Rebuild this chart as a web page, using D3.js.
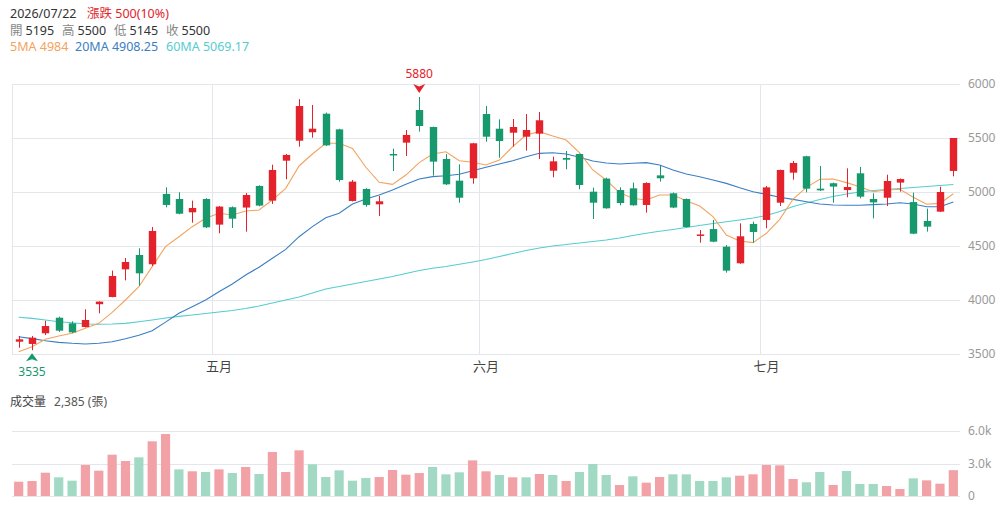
<!DOCTYPE html>
<html><head><meta charset="utf-8">
<script src="https://cdn.jsdelivr.net/npm/d3@7/dist/d3.min.js"></script>
<style>
body{margin:0;background:#fff;}
svg{display:block;font-family:"Noto Sans","Noto Sans CJK TC",sans-serif;}
</style></head><body>
<svg id="c" width="1002" height="509"></svg>
<script>
// ---------- DATA ----------
const dates = [
 "2026/04/10","2026/04/13","2026/04/14","2026/04/15","2026/04/16","2026/04/17","2026/04/20","2026/04/21","2026/04/22","2026/04/23",
 "2026/04/24","2026/04/27","2026/04/28","2026/04/29","2026/04/30",
 "2026/05/04","2026/05/05","2026/05/06","2026/05/07","2026/05/08","2026/05/11","2026/05/12","2026/05/13","2026/05/14","2026/05/15",
 "2026/05/18","2026/05/19","2026/05/20","2026/05/21","2026/05/22","2026/05/25","2026/05/26","2026/05/27","2026/05/28","2026/05/29",
 "2026/06/01","2026/06/02","2026/06/03","2026/06/04","2026/06/05","2026/06/08","2026/06/09","2026/06/10","2026/06/11","2026/06/12",
 "2026/06/15","2026/06/16","2026/06/17","2026/06/18","2026/06/22","2026/06/23","2026/06/24","2026/06/25","2026/06/26","2026/06/29","2026/06/30",
 "2026/07/01","2026/07/02","2026/07/06","2026/07/07","2026/07/08","2026/07/09","2026/07/10","2026/07/13","2026/07/14","2026/07/15",
 "2026/07/16","2026/07/17","2026/07/20","2026/07/21","2026/07/22"
];
const opens = [
 3614,3593,3692,3836,3784,3750,3961,4028,4284,4417,
 4331,4982,4935,4812,4935,4698,4859,4856,5056,4920,
 5290,5475,5553,5725,5580,4917,5028,4886,5352,5457,
 5759,5602,5306,5105,5127,5722,5586,5549,5512,5540,
 5197,5315,5352,5003,5124,5018,5034,4880,5154,4988,
 4935,4597,4657,4494,4340,4704,4741,4901,5179,5331,
 5031,5081,5018,5173,4935,4947,5087,4907,4732,4818,5195
];
const highs = [
 3667,3667,3808,3845,3803,3914,3988,4272,4389,4479,
 4676,5043,4997,4920,4942,4870,4866,4990,5062,5253,
 5352,5860,5806,5735,5585,5111,5035,4963,5401,5574,
 5880,5605,5352,5256,5455,5796,5673,5676,5722,5741,
 5327,5380,5355,5040,5133,5043,5087,5090,5250,4995,
 4940,4648,4741,4509,4710,4725,5056,5207,5287,5335,
 5241,5087,5219,5232,4988,5160,5125,4994,4846,5049,5500
];
const lows = [
 3558,3535,3676,3705,3693,3745,3877,4025,4182,4133,
 4315,4858,4794,4716,4667,4618,4667,4633,4868,4889,
 5118,5420,5503,5425,5095,4912,4864,4778,5194,5333,
 5559,5151,5065,4901,5077,5466,5318,5420,5383,5306,
 5136,5210,5025,4750,4845,4877,4873,4809,5096,4850,
 4670,4531,4535,4253,4335,4531,4664,4870,5114,4997,
 5010,4901,4951,4942,4756,4870,5003,4610,4633,4815,5145
];
const closes = [
 3636,3651,3759,3716,3700,3815,3985,4222,4352,4247,
 4639,4880,4799,4852,4673,4865,4753,4972,4874,5204,
 5343,5796,5586,5432,5111,5096,4880,4914,5343,5528,
 5611,5281,5071,4947,5451,5512,5472,5602,5574,5664,
 5284,5299,5065,4901,4849,4898,4877,5083,5127,4856,
 4676,4607,4540,4272,4590,4630,5043,5204,5269,5031,
 5015,5050,5046,4957,4904,5102,5120,4614,4679,5000,5500
];
const volumes = [
 1320,1385,2150,1725,1415,2860,2340,3815,3230,3570,
 5050,5720,2460,2280,2215,2460,2120,2680,2030,4060,
 2215,4215,2925,1755,2370,1415,1660,1755,2400,1970,
 2120,2680,2000,2185,3290,2280,1940,1725,1725,2030,
 1940,1385,2215,2955,1940,1015,1815,1230,1755,2000,
 2000,1385,1385,1725,1875,2000,2860,2830,1570,1265,
 2215,1015,2310,1110,1110,920,645,1630,1445,1135,2385
];
const ma5 = [
 3521,3568,3636,3667,3692,3738,3784,3886,4000,4123,
 4309,4494,4586,4679,4756,4803,4787,4824,4833,4926,
 5034,5241,5352,5451,5451,5404,5229,5090,5071,5157,
 5272,5352,5373,5290,5275,5250,5296,5420,5528,5559,
 5519,5481,5364,5204,5111,4994,4942,4926,4972,4972,
 4920,4870,4772,4602,4546,4531,4618,4747,4935,5043,
 5118,5120,5087,5049,5003,5018,5025,4951,4886,4895,4984
];
const ma20 = [
 3660,3642,3623,3608,3599,3593,3599,3614,3642,3673,
 3716,3795,3877,3938,4000,4077,4148,4232,4303,4386,
 4469,4586,4679,4762,4803,4889,4935,4972,5018,5071,
 5120,5142,5151,5164,5197,5229,5259,5290,5327,5358,
 5364,5352,5321,5287,5269,5259,5266,5272,5250,5204,
 5167,5142,5111,5080,5040,5003,4978,4951,4932,4910,
 4889,4880,4877,4877,4883,4889,4901,4889,4864,4864,4908.25
];
const ma60 = [
 3840,3830,3815,3799,3790,3778,3775,3778,3784,3799,
 3815,3833,3848,3861,3875,3889,3903,3921,3944,3972,
 4000,4028,4065,4102,4125,4148,4171,4194,4218,4245,
 4273,4294,4310,4331,4352,4375,4403,4431,4458,4482,
 4500,4514,4528,4542,4556,4574,4597,4618,4636,4653,
 4671,4690,4708,4725,4741,4759,4782,4819,4866,4898,
 4931,4958,4981,5000,5014,5023,5032,5042,5051,5060,5069.17
];
const priceTicks = [3500, 4000, 4500, 5000, 5500, 6000];
const priceTickLabels = ["3500", "4000", "4500", "5000", "5500", "6000"];
const volumeTicks = [0, 3000, 6000];
const volumeTickLabels = ["0", "3.0k", "6.0k"];
const monthStarts = ["2026/05/04", "2026/06/01", "2026/07/01"];
const monthLabels = ["五月", "六月", "七月"];

// ---------- STYLE ----------
const UP = "#e3222b", DOWN = "#17996d";
const VUP = "#f2a1a6", VDOWN = "#a1d9c5";
const C5 = "#f3a35e", C20 = "#3a7ec3", C60 = "#55ccd0";
const GRID = "#e3e6eb";

const svg = d3.select("#c");
const L = 12, R = 960;
const x = d3.scaleBand().domain(dates).range([L, R]).paddingInner(0).paddingOuter(0);
const bw = x.bandwidth();
const cx = d => x(d) + bw / 2;
const y = d3.scaleLinear().domain([3500, 6000]).range([354, 84]);
const yv = d3.scaleLinear().domain([0, 6000]).range([496, 431]);
const n = dates.length;
const idx = d3.range(n);

// ---------- HEADER ----------
const last = n - 1;
const chg = closes[last] - closes[last - 1];
const pct = Math.round(chg / closes[last - 1] * 100);
const hdr = svg.append("g").attr("font-size", 12.5);
hdr.append("text").attr("x", 10).attr("y", 18).attr("fill", "#333").text(dates[last]);
hdr.append("text").attr("x", 87).attr("y", 18).attr("fill", UP).text(`漲跌 ${chg}(${pct}%)`);
const row2 = [["開", opens[last]], ["高", highs[last]], ["低", lows[last]], ["收", closes[last]]];
const r2x = [10, 62, 114, 166];
row2.forEach((r, i) => {
  const t = hdr.append("text").attr("x", r2x[i]).attr("y", 35);
  t.append("tspan").attr("fill", "#888").text(r[0]);
  t.append("tspan").attr("fill", "#333").attr("dx", 3).text(r[1]);
});
hdr.append("text").attr("x", 10).attr("y", 51).attr("fill", C5).text(`5MA ${ma5[last]}`);
hdr.append("text").attr("x", 75).attr("y", 51).attr("fill", C20).text(`20MA ${ma20[last]}`);
hdr.append("text").attr("x", 166).attr("y", 51).attr("fill", C60).text(`60MA ${ma60[last]}`);

// ---------- PRICE GRID ----------
const grid = svg.append("g");
grid.selectAll("line.h").data(priceTicks).join("line")
  .attr("x1", L).attr("x2", R).attr("y1", d => Math.round(y(d)) + 0.5).attr("y2", d => Math.round(y(d)) + 0.5)
  .attr("stroke", GRID).attr("stroke-width", 1);
grid.append("line").attr("x1", L + 0.5).attr("x2", L + 0.5).attr("y1", y(6000)).attr("y2", y(3500))
  .attr("stroke", GRID);
grid.selectAll("line.v").data(monthStarts).join("line")
  .attr("x1", d => Math.round(x(d)) + 0.5).attr("x2", d => Math.round(x(d)) + 0.5)
  .attr("y1", y(6000)).attr("y2", y(3500)).attr("stroke", GRID);

// y axis labels (right)
const yAxis = d3.axisRight(y).tickValues(priceTicks).tickSize(0).tickPadding(8)
  .tickFormat(d => priceTickLabels[priceTicks.indexOf(d)]);
const ya = svg.append("g").attr("transform", `translate(${R},0)`).call(yAxis);
ya.select(".domain").remove();
ya.selectAll("text").attr("fill", "#999").attr("font-size", 12).attr("font-family", "Noto Sans, sans-serif");

// x axis month labels
const xAxis = d3.axisBottom(x).tickValues(monthStarts).tickSize(0).tickPadding(8)
  .tickFormat(d => monthLabels[monthStarts.indexOf(d)]);
const xa = svg.append("g").attr("transform", `translate(0,${y(3500)})`).call(xAxis);
xa.select(".domain").remove();
xa.selectAll("text").attr("fill", "#444").attr("font-size", 13).attr("font-family", "Noto Sans CJK TC, sans-serif");

// ---------- MA LINES ----------
const lineGen = arr => d3.line().x(i => cx(dates[i])).y(i => y(arr[i]))(idx);
[[ma60, C60], [ma20, C20], [ma5, C5]].forEach(([arr, c]) => {
  svg.append("path").attr("d", lineGen(arr)).attr("fill", "none").attr("stroke", c).attr("stroke-width", 1.1);
});

// ---------- CANDLES ----------
const bodyW = 7.4;
const cg = svg.append("g");
idx.forEach(i => {
  const up = closes[i] >= opens[i];
  const col = up ? UP : DOWN;
  const xc = Math.round(cx(dates[i])) + 0.5;
  cg.append("line").attr("x1", xc).attr("x2", xc).attr("y1", y(highs[i])).attr("y2", y(lows[i]))
    .attr("stroke", col).attr("stroke-width", 1);
  const top = y(Math.max(opens[i], closes[i])), bot = y(Math.min(opens[i], closes[i]));
  cg.append("rect").attr("x", xc - bodyW / 2).attr("width", bodyW)
    .attr("y", top).attr("height", Math.max(1.5, bot - top)).attr("fill", col);
});

// ---------- MAX / MIN MARKERS ----------
const iMax = d3.maxIndex(highs), iMin = d3.minIndex(lows);
{
  const xm = cx(dates[iMax]), tip = y(highs[iMax]) - 4;
  svg.append("path").attr("d", `M${xm},${tip} L${xm - 6},${tip - 9} L${xm},${tip - 6.5} L${xm + 6},${tip - 9} Z`).attr("fill", UP);
  svg.append("text").attr("x", xm).attr("y", tip - 15).attr("text-anchor", "middle").attr("fill", UP)
    .attr("font-size", 12).text(highs[iMax]);
}
{
  const xm = cx(dates[iMin]), tip = y(lows[iMin]) + 3;
  svg.append("path").attr("d", `M${xm},${tip} L${xm - 6},${tip + 8} L${xm},${tip + 6} L${xm + 6},${tip + 8} Z`).attr("fill", DOWN);
  svg.append("text").attr("x", xm).attr("y", tip + 23).attr("text-anchor", "middle").attr("fill", DOWN)
    .attr("font-size", 12).text(lows[iMin]);
}

// ---------- VOLUME ----------
const vt = svg.append("text").attr("x", 10).attr("y", 406).attr("font-size", 12);
vt.append("tspan").attr("fill", "#444").text("成交量");
vt.append("tspan").attr("fill", "#555").attr("dx", 8).text(`${d3.format(",")(volumes[last])} (張)`);

svg.append("g").selectAll("line").data(volumeTicks).join("line")
  .attr("x1", L).attr("x2", R).attr("y1", d => Math.round(yv(d)) + 0.5).attr("y2", d => Math.round(yv(d)) + 0.5)
  .attr("stroke", GRID);
const vAxis = d3.axisRight(yv).tickValues(volumeTicks).tickSize(0).tickPadding(8)
  .tickFormat(d => volumeTickLabels[volumeTicks.indexOf(d)]);
const va = svg.append("g").attr("transform", `translate(${R},0)`).call(vAxis);
va.select(".domain").remove();
va.selectAll("text").attr("fill", "#999").attr("font-size", 12).attr("font-family", "Noto Sans, sans-serif");

const vbW = 9.2;
svg.append("g").selectAll("rect").data(idx).join("rect")
  .attr("x", i => cx(dates[i]) - vbW / 2).attr("width", vbW)
  .attr("y", i => yv(volumes[i])).attr("height", i => yv(0) - yv(volumes[i]))
  .attr("fill", i => {
    const up = i === 0 ? closes[i] >= opens[i] : closes[i] >= closes[i - 1];
    return up ? VUP : VDOWN;
  });
</script>
</body></html>
